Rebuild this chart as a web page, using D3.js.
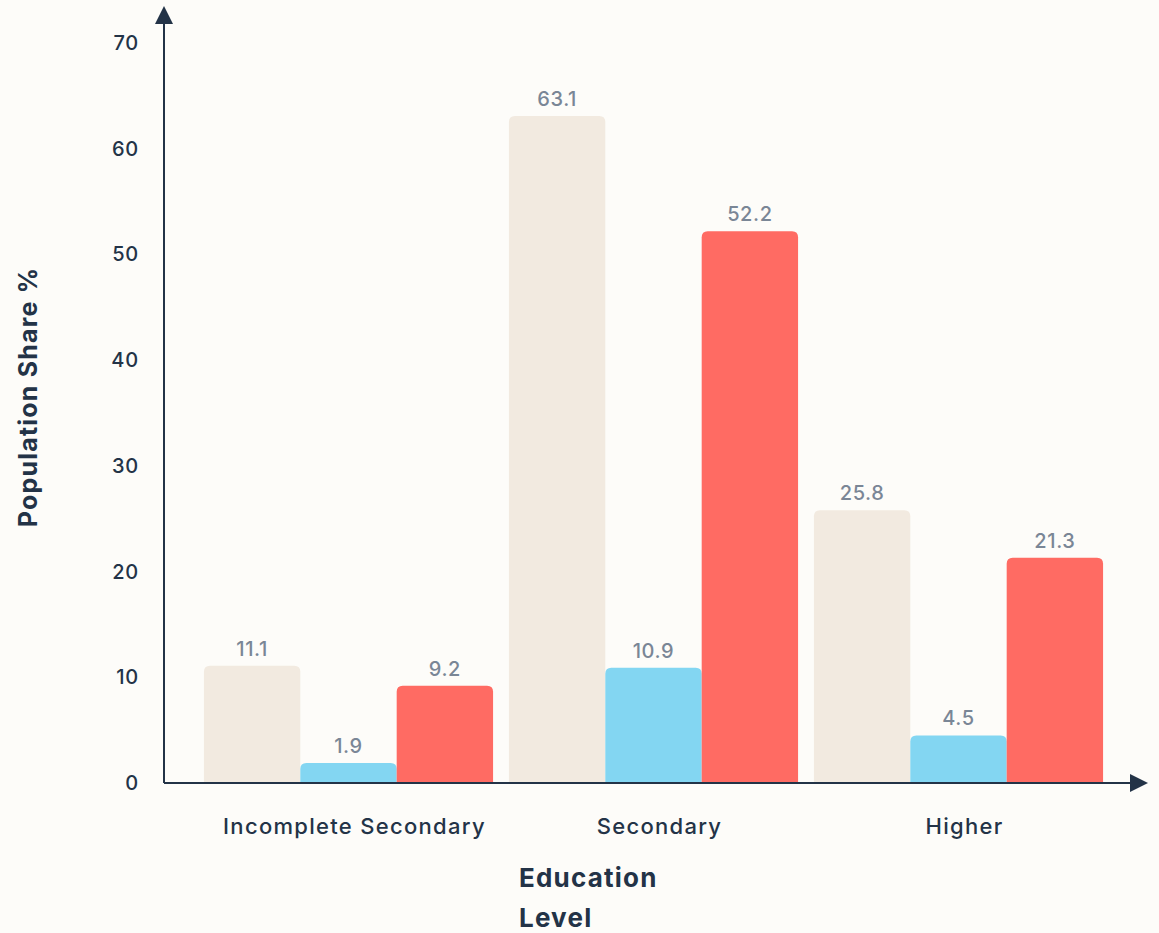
<!DOCTYPE html>
<html>
<head>
<meta charset="utf-8">
<script src="https://cdn.jsdelivr.net/npm/d3@7"></script>
<style>
  html, body { margin: 0; padding: 0; background: #FDFCF9; }
  svg { display: block; }
  text { font-family: "Inter", "Open Sans", sans-serif; }
</style>
</head>
<body>
<svg id="chart" width="1159" height="933"></svg>
<script>
// Education levels and the three population series
const categories = ["Incomplete Secondary", "Secondary", "Higher"];
const seriesNames = ["Series A", "Series B", "Series C"];
const seriesA = [11.1, 63.1, 25.8];
const seriesB = [1.9, 10.9, 4.5];
const seriesC = [9.2, 52.2, 21.3];
const yTicks = [0, 10, 20, 30, 40, 50, 60, 70];
const colors = ["#F2EAE0", "#83D6F2", "#FF6B63"];

const seriesValues = [seriesA, seriesB, seriesC];
const rows = categories.map((c, i) => ({
  category: c,
  values: seriesNames.map((s, j) => ({ key: s, value: seriesValues[j][i], idx: j }))
}));

const svg = d3.select("#chart");
const axisColor = "#233347";
const originX = 164, originY = 783;

const x0 = d3.scaleBand().domain(categories).range([196, 1111]).paddingInner(0.052).paddingOuter(0.026);
const x1 = d3.scaleBand().domain(seriesNames).range([0, x0.bandwidth()]).padding(0);
const y = d3.scaleLinear().domain([0, 70]).range([originY, 43]);

// rounded-top bar path
function barPath(x, yTop, w, h, r) {
  r = Math.min(r, h, w / 2);
  return `M${x},${yTop + h}V${yTop + r}Q${x},${yTop} ${x + r},${yTop}H${x + w - r}Q${x + w},${yTop} ${x + w},${yTop + r}V${yTop + h}Z`;
}

const groups = svg.append("g").selectAll("g").data(rows).join("g")
  .attr("transform", d => `translate(${x0(d.category)},0)`);

groups.selectAll("path").data(d => d.values).join("path")
  .attr("d", d => barPath(x1(d.key), y(d.value), x1.bandwidth(), originY - y(d.value), 6))
  .attr("fill", d => colors[d.idx]);

groups.selectAll("text.val").data(d => d.values).join("text")
  .attr("class", "val")
  .attr("x", d => x1(d.key) + x1.bandwidth() / 2)
  .attr("y", d => y(d.value) - 10)
  .attr("text-anchor", "middle")
  .attr("font-size", 20)
  .attr("font-weight", 500)
  .attr("letter-spacing", 0.6)
  .attr("fill", "#7A8696")
  .text(d => d.value);

// y axis with arrow
svg.append("line").attr("x1", originX).attr("x2", originX).attr("y1", originY).attr("y2", 20)
  .attr("stroke", axisColor).attr("stroke-width", 2);
svg.append("path").attr("d", `M${originX},6L${originX - 9},24L${originX + 9},24Z`).attr("fill", axisColor);

// x axis with arrow
svg.append("line").attr("x1", originX).attr("x2", 1135).attr("y1", originY).attr("y2", originY)
  .attr("stroke", axisColor).attr("stroke-width", 2);
svg.append("path").attr("d", `M1148,${originY}L1130,${originY - 9}L1130,${originY + 9}Z`).attr("fill", axisColor);

// y tick labels
svg.append("g").selectAll("text").data(yTicks).join("text")
  .attr("x", 139).attr("y", d => y(d)).attr("dy", "0.35em")
  .attr("text-anchor", "end")
  .attr("font-size", 20).attr("font-weight", 500).attr("letter-spacing", 0.8).attr("fill", axisColor)
  .text(d => d);

// category labels
svg.append("g").selectAll("text").data(categories).join("text")
  .attr("x", d => x0(d) + x0.bandwidth() / 2 + 6).attr("y", 834)
  .attr("text-anchor", "middle")
  .attr("font-size", 22).attr("font-weight", 500).attr("letter-spacing", 1.3).attr("fill", axisColor)
  .text(d => d);

// axis titles
const xt = svg.append("text").attr("x", 519).attr("y", 887)
  .attr("font-size", 26).attr("font-weight", 700).attr("letter-spacing", 1.2).attr("fill", axisColor);
xt.append("tspan").attr("x", 519).text("Education");
xt.append("tspan").attr("x", 519).attr("dy", 40).text("Level");

svg.append("text")
  .attr("transform", "translate(37,397) rotate(-90)")
  .attr("text-anchor", "middle")
  .attr("font-size", 25).attr("font-weight", 700).attr("letter-spacing", 1.2).attr("fill", axisColor)
  .text("Population Share %");
</script>
</body>
</html>
